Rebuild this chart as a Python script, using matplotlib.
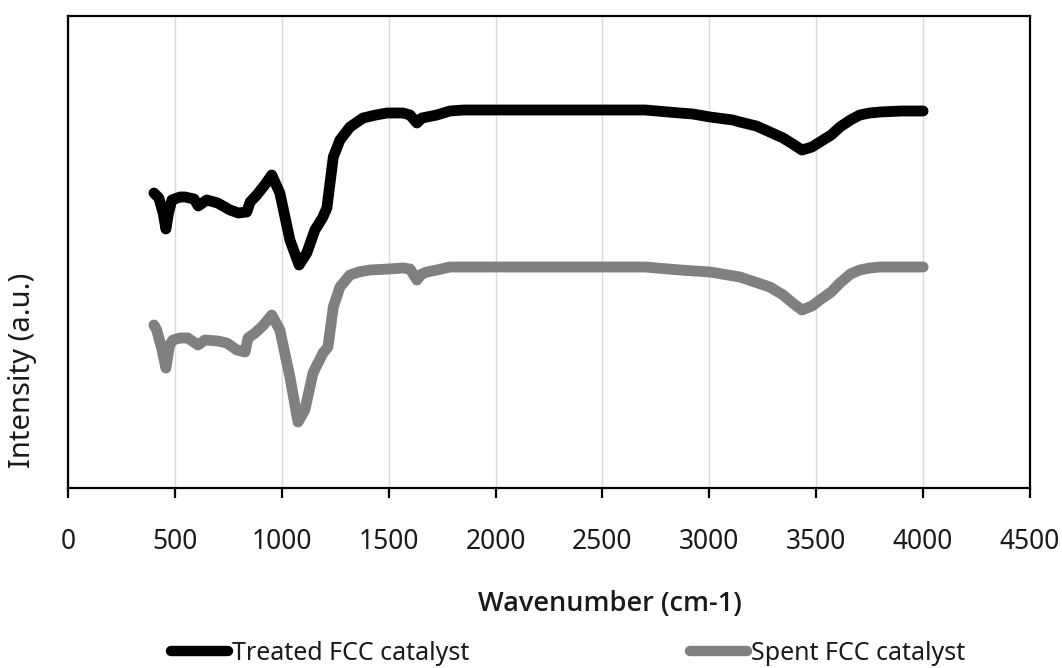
import numpy as np
import matplotlib.pyplot as plt

plt.rcParams['font.family'] = ['Noto Sans', 'DejaVu Sans']

# FTIR traces (arbitrary intensity units)
wn_treated = [402, 425, 445, 458, 470, 486, 524, 547, 590, 609, 649, 700, 758, 797, 836, 852,
              883, 920, 953, 991, 1038, 1081, 1117, 1155, 1190, 1211, 1241, 1272, 1319, 1380,
              1440, 1492, 1567, 1600, 1632, 1655, 1679, 1725, 1787, 1850, 1959, 2200, 2488,
              2700, 2862, 2923, 3003, 3110, 3143, 3220, 3283, 3345, 3390, 3433, 3480, 3517,
              3570, 3611, 3660, 3704, 3750, 3798, 3900, 4000]
int_treated = [295, 290, 275, 259, 275, 288, 291, 291, 289, 282, 288, 285, 278, 275, 276, 286,
               293, 303, 313, 295, 248, 223, 235, 258, 270, 280, 331, 348, 361, 370,
               373, 375, 375, 373, 365, 370, 371, 373, 377, 378, 378, 378, 378,
               378, 375, 374, 371, 368, 366, 362, 356, 350, 344, 338, 341, 346,
               353, 361, 368, 373, 375, 376, 377, 377]

wn_spent = [402, 415, 440, 458, 475, 491, 524, 560, 608, 641, 700, 743, 790, 828, 842,
            875, 915, 953, 991, 1038, 1076, 1108, 1146, 1193, 1216, 1241, 1272, 1319, 1360,
            1412, 1500, 1567, 1600, 1632, 1655, 1679, 1725, 1787, 1850, 2000, 2400, 2700,
            2862, 3003, 3143, 3283, 3345, 3390, 3433, 3480, 3517, 3570, 3611, 3660, 3704,
            3750, 3798, 3900, 4000]
int_spent = [163, 158, 138, 120, 143, 148, 150, 150, 143, 148, 147, 145, 138, 136, 150,
             155, 163, 173, 158, 111, 66, 78, 115, 135, 141, 181, 201, 213, 216,
             218, 219, 220, 219, 208, 214, 216, 218, 221, 221, 221, 221, 221,
             218, 216, 211, 201, 193, 185, 178, 182, 188, 196, 205, 214, 218,
             220, 221, 221, 221]

fig = plt.figure(figsize=(10.62, 6.68), dpi=100)
ax = fig.add_axes([68/1062, 1 - 488/668, (1030-68)/1062, (488-16)/668])

ax.plot(wn_treated, int_treated, color='black', lw=7.8, solid_capstyle='round',
        solid_joinstyle='round', label='Treated FCC catalyst')
ax.plot(wn_spent, int_spent, color='#808080', lw=7.8, solid_capstyle='round',
        solid_joinstyle='round', label='Spent FCC catalyst')

ax.set_xlim(0, 4500)
ax.set_ylim(0, 472)
ax.set_xticks(np.arange(0, 4501, 500))
ax.set_yticks([])
ax.grid(axis='x', color='#d9d9d9', lw=1)
ax.set_axisbelow(True)
for s in ax.spines.values():
    s.set_linewidth(1.6)
    s.set_color('black')
ax.tick_params(axis='x', direction='out', length=7.5, width=1.6, pad=21,
               labelsize=19, labelcolor='#1a1a1a')

fig.text(610/1062, 1 - 604/668, 'Wavenumber (cm-1)', ha='center', va='center',
         fontsize=19.5, fontweight='semibold', color='#1a1a1a',
         family=['Open Sans', 'DejaVu Sans'])
fig.text(23/1062, 1 - 370/668, 'Intensity (a.u.)', ha='center', va='center',
         rotation=90, fontsize=21, color='#1a1a1a')

leg = fig.legend(loc='center', bbox_to_anchor=(568/1062, 1 - 653/668), ncol=2,
                 frameon=False, fontsize=18, handlelength=2.3, handletextpad=0.15,
                 columnspacing=8.8, labelcolor='#1a1a1a')
for line in leg.get_lines():
    line.set_linewidth(7.5)
    line.set_solid_capstyle('round')

fig.savefig('out.png', dpi=100)
